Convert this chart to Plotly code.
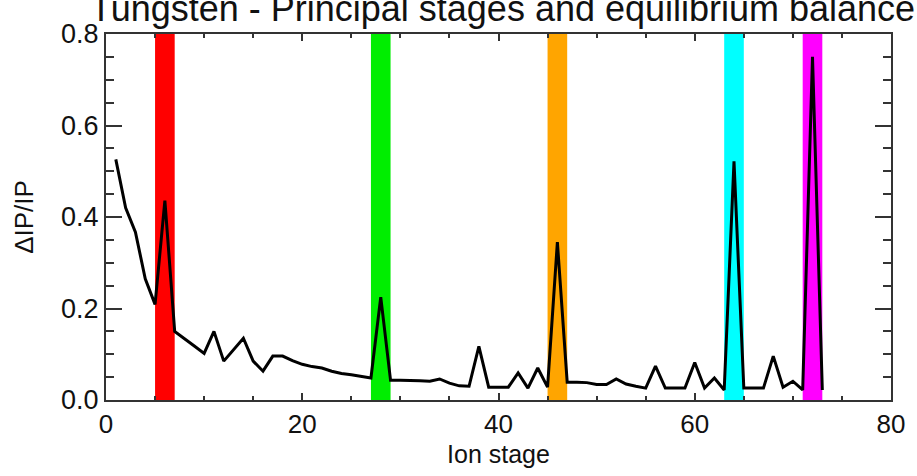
import plotly.graph_objects as go

# Ion stages and relative ionisation-potential jump
ion_stage = list(range(1, 74))
dip_ip = [0.526, 0.420, 0.367, 0.265, 0.209, 0.436, 0.150, 0.133, 0.118, 0.102,
          0.150, 0.085, 0.110, 0.135, 0.085, 0.063, 0.096, 0.096, 0.086, 0.078,
          0.073, 0.070, 0.063, 0.058, 0.055, 0.051, 0.048, 0.225, 0.043, 0.043,
          0.043, 0.042, 0.041, 0.046, 0.037, 0.031, 0.030, 0.117, 0.028, 0.028,
          0.028, 0.059, 0.026, 0.070, 0.028, 0.345, 0.039, 0.039, 0.038, 0.034,
          0.034, 0.046, 0.035, 0.030, 0.026, 0.074, 0.026, 0.026, 0.026, 0.082,
          0.026, 0.048, 0.022, 0.522, 0.026, 0.026, 0.026, 0.096, 0.028, 0.041,
          0.022, 0.750, 0.022]

# Principal stage bands
band_start = [5, 27, 45, 63, 71]
band_end = [7, 29, 47, 65, 73]
band_color = ["#ff0000", "#00ee00", "#ffa500", "#00ffff", "#ff00ff"]

x_ticks = [0, 20, 40, 60, 80]
y_ticks = [0.0, 0.2, 0.4, 0.6, 0.8]
title_text = "Tungsten - Principal stages and equilibrium balance"

FONT = "Liberation Sans, Arial, sans-serif"

fig = go.Figure()

for x0, x1, c in zip(band_start, band_end, band_color):
    fig.add_vrect(x0=x0, x1=x1, fillcolor=c, opacity=1, line_width=0, layer="below")

fig.add_trace(go.Scatter(x=ion_stage, y=dip_ip, mode="lines",
                         line=dict(color="black", width=3), showlegend=False))

fig.add_annotation(text=title_text, xref="paper", yref="paper",
                   x=-0.023, y=1.0 + 3 / 368, xanchor="left", yanchor="bottom",
                   showarrow=False, font=dict(family=FONT, size=36, color="#111"))

fig.update_layout(
    width=917, height=476,
    margin=dict(l=106, r=20, t=34, b=74),
    paper_bgcolor="white", plot_bgcolor="white",
    font=dict(family=FONT, color="#111"),
)

fig.update_xaxes(
    range=[0, 80], tickvals=x_ticks, ticks="inside", ticklen=7, tickwidth=1.5,
    tickcolor="#333", showline=True, linecolor="#333", linewidth=2, mirror="ticks",
    showgrid=False, zeroline=False, tickfont=dict(size=26),
    minor=dict(ticks="inside", dtick=5, ticklen=4, tickwidth=1.5, tickcolor="#333", showgrid=False),
    title=dict(text="Ion stage", font=dict(size=25), standoff=7),
)
fig.update_yaxes(
    range=[0, 0.8], tickvals=y_ticks, tickformat=".1f", ticks="inside", ticklen=16,
    tickwidth=1.5, tickcolor="#333", showline=True, linecolor="#333", linewidth=2,
    mirror="ticks", showgrid=False, zeroline=False, tickfont=dict(size=27),
    minor=dict(ticks="inside", dtick=0.05, ticklen=8, tickwidth=1.5, tickcolor="#333", showgrid=False),
    title=dict(text="ΔIP/IP", font=dict(size=26), standoff=20),
)

fig.write_html("out.html")
